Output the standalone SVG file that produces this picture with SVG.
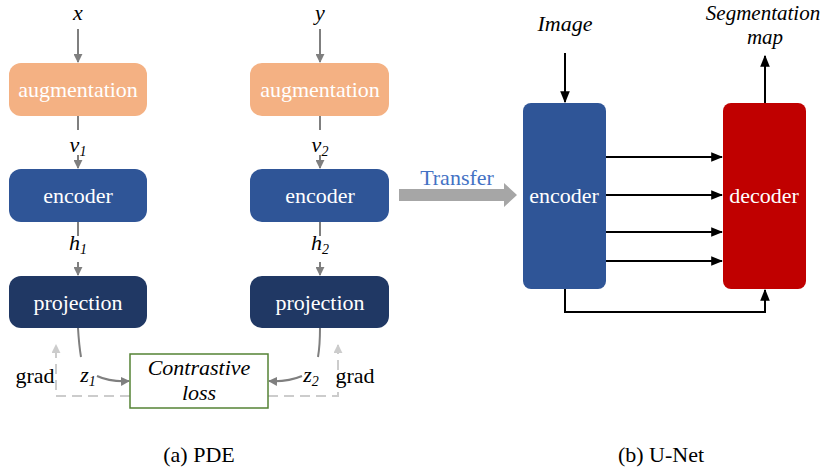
<svg xmlns="http://www.w3.org/2000/svg" width="826" height="471" viewBox="0 0 826 471" font-family="'Liberation Serif', 'Times New Roman', serif">
<defs>
<marker id="ag" viewBox="0 0 10 10" refX="9" refY="5" markerWidth="9" markerHeight="9" markerUnits="userSpaceOnUse" orient="auto"><path d="M0,0 L10,5 L0,10 z" fill="#7f7f7f"/></marker>
<marker id="al" viewBox="0 0 10 10" refX="9" refY="5" markerWidth="9" markerHeight="9" markerUnits="userSpaceOnUse" orient="auto"><path d="M0,0 L10,5 L0,10 z" fill="#cccccc"/></marker>
<marker id="ab" viewBox="0 0 10 10" refX="9" refY="5" markerWidth="12" markerHeight="12" markerUnits="userSpaceOnUse" orient="auto"><path d="M0,1 L10,5 L0,9 z" fill="#000"/></marker>
</defs>
<style>
.bt{fill:#fff;font-size:22px;text-anchor:middle;}
.lb{fill:#000;font-size:22px;font-style:italic;text-anchor:middle;}
.sub{font-size:14px;}
.g{stroke:#7f7f7f;stroke-width:2;fill:none;}
.gd{stroke:#cccccc;stroke-width:2;fill:none;stroke-dasharray:10,6;}
.k{stroke:#000;stroke-width:2;fill:none;}
.cap{fill:#000;font-size:22px;text-anchor:middle;}
</style>
<rect width="826" height="471" fill="#fff"/>

<g id="connectors">
<line class="g" x1="78" y1="29" x2="78" y2="62" marker-end="url(#ag)"/>
<line class="g" x1="320" y1="29" x2="320" y2="62" marker-end="url(#ag)"/>
<line class="g" x1="78" y1="116" x2="78" y2="130"/>
<line class="g" x1="320" y1="116" x2="320" y2="130"/>
<line class="g" x1="78" y1="155" x2="78" y2="168" marker-end="url(#ag)"/>
<line class="g" x1="320" y1="155" x2="320" y2="168" marker-end="url(#ag)"/>
<line class="g" x1="78" y1="222" x2="78" y2="236"/>
<line class="g" x1="320" y1="222" x2="320" y2="236"/>
<line class="g" x1="78" y1="262" x2="78" y2="275" marker-end="url(#ag)"/>
<line class="g" x1="320" y1="262" x2="320" y2="275" marker-end="url(#ag)"/>
<path class="g" d="M78,328 Q79,345 81,357"/>
<path class="g" d="M320,328 Q320,345 318,357"/>
<path class="g" d="M97,376 Q110,382 129,381" marker-end="url(#ag)"/>
<path class="g" d="M302,376 Q288,382 269,381" marker-end="url(#ag)"/>
<polyline class="gd" points="130,396 56,396 56,345" marker-end="url(#al)"/>
<polyline class="gd" points="268,396 338,396 338,345" marker-end="url(#al)"/>

<polygon points="399,189 504,189 504,183 517,195 504,207 504,201 399,201" fill="#a6a6a6"/>

<line class="k" x1="565" y1="53" x2="565" y2="102" marker-end="url(#ab)"/>
<line class="k" x1="765" y1="103" x2="765" y2="56" marker-end="url(#ab)"/>
<line class="k" x1="606" y1="157" x2="722" y2="157" marker-end="url(#ab)"/>
<line class="k" x1="606" y1="195" x2="722" y2="195" marker-end="url(#ab)"/>
<line class="k" x1="606" y1="232" x2="722" y2="232" marker-end="url(#ab)"/>
<line class="k" x1="606" y1="261" x2="722" y2="261" marker-end="url(#ab)"/>
<polyline class="k" points="565,289 565,312 765,312 765,290" marker-end="url(#ab)"/>
</g>

<g id="labels">
<text class="lb" x="78" y="20">x</text>
<text class="lb" x="320" y="20">y</text>
<text class="lb" x="78" y="152">v<tspan class="sub" dy="4">1</tspan></text>
<text class="lb" x="320" y="152">v<tspan class="sub" dy="4">2</tspan></text>
<text class="lb" x="78" y="250">h<tspan class="sub" dy="4">1</tspan></text>
<text class="lb" x="320" y="250">h<tspan class="sub" dy="4">2</tspan></text>
<text class="lb" x="88" y="382">z<tspan class="sub" dy="4">1</tspan></text>
<text class="lb" x="311" y="382">z<tspan class="sub" dy="4">2</tspan></text>
<text x="35" y="383" font-size="22" text-anchor="middle">grad</text>
<text x="355" y="383" font-size="22" text-anchor="middle">grad</text>
<text x="457" y="185" font-size="22" fill="#4472c4" text-anchor="middle">Transfer</text>
<text class="lb" x="565" y="31">Image</text>
<text class="lb" x="763" y="20" style="font-size:21px">Segmentation</text>
<text class="lb" x="765" y="44" style="font-size:21px">map</text>
<text class="cap" x="199" y="462">(a) PDE</text>
<text class="cap" x="661" y="462">(b) U-Net</text>
</g>

<g id="aug1"><rect x="9" y="63" width="138" height="53" rx="12" fill="#f4b183"/><text class="bt" x="78" y="97">augmentation</text></g>
<g id="aug2"><rect x="250" y="63" width="139" height="53" rx="12" fill="#f4b183"/><text class="bt" x="320" y="97">augmentation</text></g>
<g id="enc1"><rect x="9" y="169" width="138" height="53" rx="12" fill="#2f5597"/><text class="bt" x="78" y="203">encoder</text></g>
<g id="enc2"><rect x="250" y="169" width="139" height="53" rx="12" fill="#2f5597"/><text class="bt" x="320" y="203">encoder</text></g>
<g id="proj1"><rect x="9" y="276" width="138" height="52" rx="12" fill="#203864"/><text class="bt" x="78" y="310">projection</text></g>
<g id="proj2"><rect x="250" y="276" width="139" height="52" rx="12" fill="#203864"/><text class="bt" x="320" y="310">projection</text></g>
<g id="loss"><rect x="130" y="354" width="138" height="54" fill="#fff" stroke="#548235" stroke-width="1.5"/><text class="lb" x="199" y="375">Contrastive</text><text class="lb" x="199" y="400">loss</text></g>
<g id="unet-enc"><rect x="523" y="103" width="83" height="186" rx="8" fill="#2f5597"/><text class="bt" x="564" y="203">encoder</text></g>
<g id="unet-dec"><rect x="723" y="103" width="83" height="186" rx="8" fill="#c00000"/><text class="bt" x="764" y="203">decoder</text></g>
</svg>
